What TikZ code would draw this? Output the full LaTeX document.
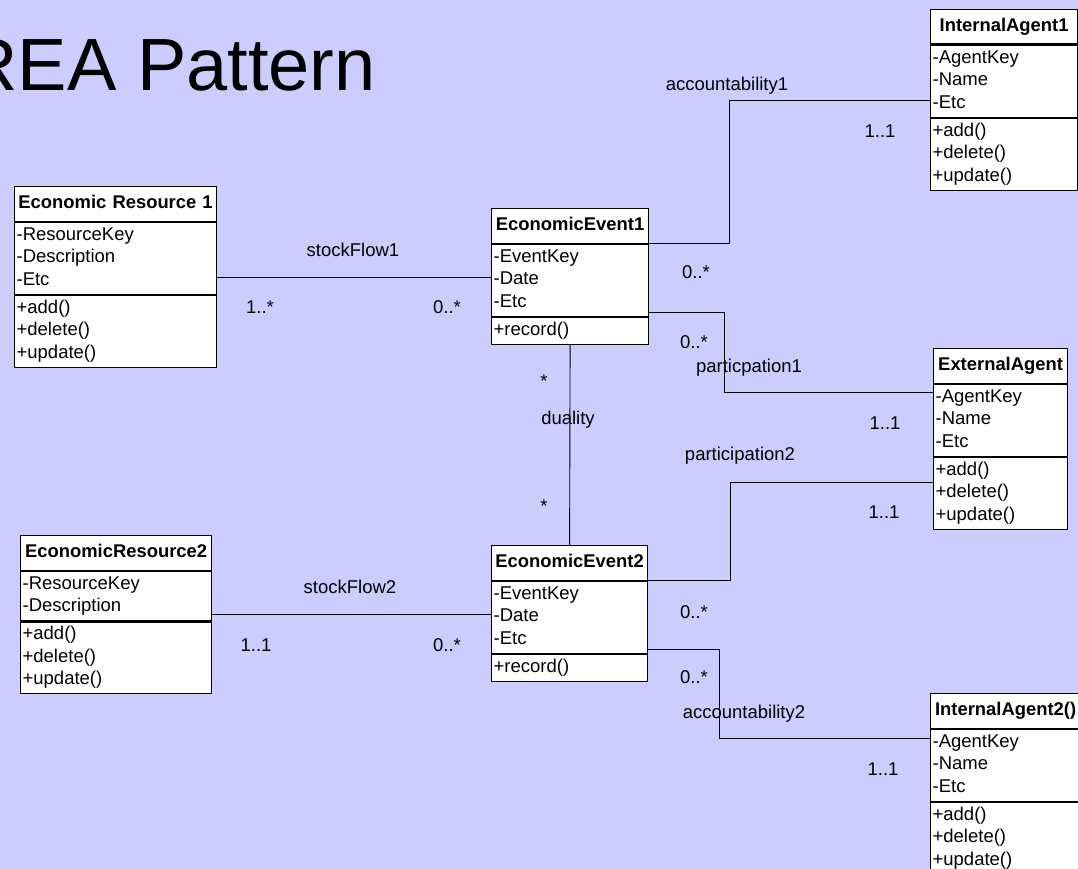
\documentclass[tikz,border=0pt]{standalone}
\usepackage{fontspec}
\setmainfont{Liberation Sans}
\usetikzlibrary{positioning}

\definecolor{slidebg}{RGB}{204,204,255}
\newcommand{\umlfont}{\fontsize{18.5}{22.5}\selectfont}
\newcommand{\umlhead}{\fontsize{18.4}{22.5}\selectfont\bfseries}

\tikzset{
	classhead/.style={draw, fill=white, line width=1.2pt, font=\umlhead, inner xsep=2pt, inner ysep=6pt,
		align=center, anchor=north west, execute at begin node=\strut},
	classpart/.style={draw, fill=white, line width=1.2pt, font=\umlfont, inner xsep=2pt, inner ysep=2.2pt,
		align=left, execute at begin node=\strut, execute at end node=\strut},
	mult/.style={font=\umlfont, inner sep=0pt, text height=13pt, text depth=0pt},
	assoc/.style={line width=0.9pt}
}

\begin{document}
\begin{tikzpicture}[x=1pt,y=-1pt]
		\useasboundingbox (0,0) rectangle (1078,869);
		\clip (0,0) rectangle (1078,869);
		\fill[slidebg] (0,0) rectangle (1078,869);

		\node[font=\fontsize{74}{80}\selectfont, anchor=base east, inner sep=0pt] (title) at (376,91) {REA Pattern};

		% resources
		\node[classhead, text width=198pt] 	(er1) 	at (14,186) 		{Economic Resource 1};
		\node[classpart, text width=198pt] 	(er1a) 	[below=0pt of er1] 	{-ResourceKey\\-Description\\-Etc};
		\node[classpart, text width=198pt] 	(er1m) 	[below=0pt of er1a] 	{+add()\\+delete()\\+update()};

		\node[classhead, text width=187pt] 	(er2) 	at (20,535) 		{EconomicResource2};
		\node[classpart, text width=187pt] 	(er2a) 	[below=0pt of er2] 	{-ResourceKey\\-Description};
		\node[classpart, text width=187pt] 	(er2m) 	[below=0pt of er2a] 	{+add()\\+delete()\\+update()};

		% events
		\node[classhead, text width=153pt] 	(ee1) 	at (491,208) 		{EconomicEvent1};
		\node[classpart, text width=153pt] 	(ee1a) 	[below=0pt of ee1] 	{-EventKey\\-Date\\-Etc};
		\node[classpart, text width=153pt] 	(ee1m) 	[below=0pt of ee1a] 	{+record()};

		\node[classhead, text width=152pt] 	(ee2) 	at (491,545) 		{EconomicEvent2};
		\node[classpart, text width=152pt] 	(ee2a) 	[below=0pt of ee2] 	{-EventKey\\-Date\\-Etc};
		\node[classpart, text width=152pt] 	(ee2m) 	[below=0pt of ee2a] 	{+record()};

		% agents
		\node[classhead, text width=143pt] 	(ia1) 	at (930,9) 		{InternalAgent1};
		\node[classpart, text width=143pt] 	(ia1a) 	[below=0pt of ia1] 	{-AgentKey\\-Name\\-Etc};
		\node[classpart, text width=143pt] 	(ia1m) 	[below=0pt of ia1a] 	{+add()\\+delete()\\+update()};

		\node[classhead, text width=130pt] 	(ext) 	at (933,348) 		{ExternalAgent};
		\node[classpart, text width=130pt] 	(exta) 	[below=0pt of ext] 	{-AgentKey\\-Name\\-Etc};
		\node[classpart, text width=130pt] 	(extm) 	[below=0pt of exta] 	{+add()\\+delete()\\+update()};

		\node[classhead, text width=146pt] 	(ia2) 	at (930,693) 		{InternalAgent2()};
		\node[classpart, text width=146pt] 	(ia2a) 	[below=0pt of ia2] 	{-AgentKey\\-Name\\-Etc};
		\node[classpart, text width=146pt] 	(ia2m) 	[below=0pt of ia2a] 	{+add()\\+delete()\\+update()};

		% associations
		\draw[assoc] ([yshift=3pt]er1a.east |- ee1a.west) -- ([yshift=3pt]ee1a.west);
		\draw[assoc] ([yshift=3pt]er2a.east |- ee2a.west) -- ([yshift=3pt]ee2a.west);
		\draw[assoc] (ee1m.south) -- (ee2.north);
		\draw[assoc] (ee1.south east) -- ++(80,0) |- ([yshift=-19.5pt]ia1a.west);
		\draw[assoc] ([yshift=4.5pt]ee1a.south east) -- ++(75,0) |- ([yshift=28pt]exta.west);
		\draw[assoc] (ee2.south east) -- ++(82,0) |- ([yshift=10.5pt]extm.west);
		\draw[assoc] ([yshift=4.5pt]ee2a.south east) -- ++(71,0) |- ([yshift=26.5pt]ia2a.west);

		% labels
		\node[mult] (l_sf1) 	at (353,250) {stockFlow1};
		\node[mult] (m_sf1a) 	at (260,307) {1..*};
		\node[mult] (m_sf1b) 	at (447,307) {0..*};
		\node[mult] (l_sf2) 	at (350,587) {stockFlow2};
		\node[mult] (m_sf2a) 	at (256,645) {1..1};
		\node[mult] (m_sf2b) 	at (447,645) {0..*};
		\node[mult] (l_dual) 	at (568,418) {duality};
		\node[mult] (m_dua) 	at (544,381) {*};
		\node[mult] (m_dub) 	at (544,506) {*};
		\node[mult] (l_acc1) 	at (727,84) {accountability1};
		\node[mult] (m_acc1a) 	at (696,272) {0..*};
		\node[mult] (m_acc1b) 	at (880,131) {1..1};
		\node[mult] (l_par1) 	at (749,366) {particpation1};
		\node[mult] (m_par1a) 	at (694,342) {0..*};
		\node[mult] (m_par1b) 	at (885,423) {1..1};
		\node[mult] (l_par2) 	at (740,454) {participation2};
		\node[mult] (m_par2a) 	at (694,612) {0..*};
		\node[mult] (m_par2b) 	at (884,512) {1..1};
		\node[mult] (l_acc2) 	at (744,712) {accountability2};
		\node[mult] (m_acc2a) 	at (694,677) {0..*};
		\node[mult] (m_acc2b) 	at (883,769) {1..1};
	\end{tikzpicture}
\end{document}
